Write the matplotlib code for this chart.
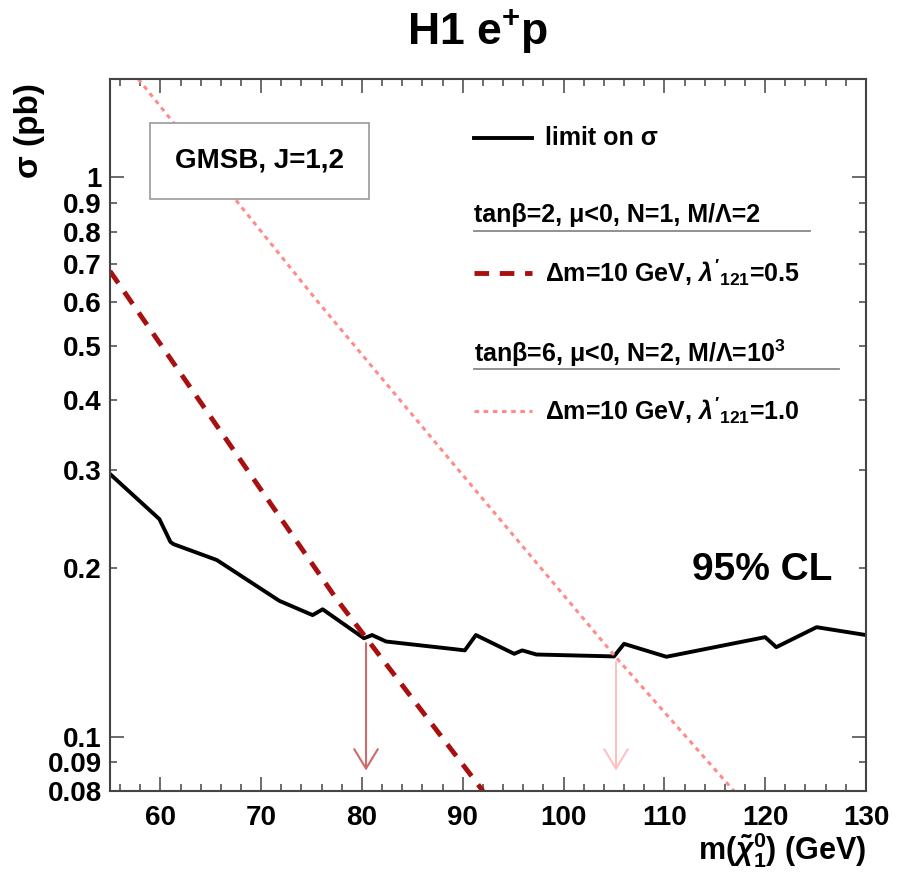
import numpy as np
import matplotlib
matplotlib.use('Agg')
import matplotlib.pyplot as plt

plt.rcParams['font.family'] = ['Liberation Sans', 'DejaVu Sans']
plt.rcParams['font.weight'] = 'bold'
plt.rcParams['mathtext.fontset'] = 'custom'
plt.rcParams['mathtext.rm'] = 'Liberation Sans:bold'
plt.rcParams['mathtext.it'] = 'Liberation Sans:italic:bold'
plt.rcParams['mathtext.bf'] = 'Liberation Sans:bold'

# observed limit on sigma (pb) vs neutralino mass (GeV)
limit_mass = [55, 59.9, 61.0, 61.3, 65.6, 71.8, 75.1, 76.1, 80.2, 81.0, 82.4,
              88.9, 90.2, 91.3, 95.1, 95.9, 97.3, 105.0, 106.0, 110.2, 120.0,
              121.1, 125.1, 130]
limit_sigma = [0.295, 0.245, 0.223, 0.221, 0.207, 0.175, 0.165, 0.169, 0.150,
               0.152, 0.148, 0.1436, 0.1427, 0.152, 0.1407, 0.1427, 0.1403,
               0.1392, 0.1466, 0.139, 0.1507, 0.1446, 0.157, 0.152]

# GMSB predictions
gmsb1_mass = [55, 77.5, 92]
gmsb1_sigma = [0.68, 0.176, 0.08]
gmsb2_mass = [57.8, 75.6, 88.9, 105.0, 116.9]
gmsb2_sigma = [1.5, 0.60, 0.31, 0.140, 0.08]

# excluded-mass arrows
arrow_mass = [80.4, 105.2]
arrow_top = [0.147, 0.136]
arrow_bottom = [0.087, 0.087]
arrow_colors = ['#cf6a6a', '#ffc0c0']

ytick_major = [0.1, 1]
ytick_major_labels = ['0.1', '1']
ytick_minor = [0.08, 0.09, 0.2, 0.3, 0.4, 0.5, 0.6, 0.7, 0.8, 0.9]
ytick_minor_labels = ['0.08', '0.09', '0.2', '0.3', '0.4', '0.5', '0.6', '0.7', '0.8', '0.9']
xticks = [60, 70, 80, 90, 100, 110, 120, 130]

fig = plt.figure(figsize=(9, 8.77), dpi=100)
ax = fig.add_axes([0.1222, 0.0981, 0.84, 0.8119])

ax.plot(limit_mass, limit_sigma, color='black', lw=2.8, solid_joinstyle='round')
ax.plot(gmsb1_mass, gmsb1_sigma, color='#a80f0f', lw=3.5, linestyle=(0, (3, 2.2)))
ax.plot(gmsb2_mass, gmsb2_sigma, color='#ff8c8c', lw=2.2, linestyle=(0, (1.5, 1.5)))

for xm, yt, yb, c in zip(arrow_mass, arrow_top, arrow_bottom, arrow_colors):
    ax.annotate('', xy=(xm, yb), xytext=(xm, yt),
                arrowprops=dict(arrowstyle='->,head_length=1.4,head_width=0.85',
                                color=c, lw=1.5, mutation_scale=10,
                                shrinkA=0, shrinkB=0))

ax.set_yscale('log')
ax.set_xlim(55, 130)
ax.set_ylim(0.08, 1.5)

ax.set_xticks(xticks)
ax.set_xticks(np.arange(56, 130, 2), minor=True)
ax.set_yticks(ytick_major)
ax.set_yticklabels(ytick_major_labels)
ax.set_yticks(ytick_minor, minor=True)
ax.set_yticklabels(ytick_minor_labels, minor=True)

ax.tick_params(which='both', direction='in', top=True, right=True,
               labelsize=20, color='#444444', width=1.1)
ax.tick_params(which='major', length=10, pad=10)
ax.tick_params(which='minor', length=5)
ax.tick_params(axis='y', which='minor', labelsize=20, pad=6)
ax.tick_params(axis='y', which='major', pad=6)
for lab in ax.get_xticklabels() + ax.get_yticklabels() + ax.get_yticklabels(minor=True):
    lab.set_fontweight('bold')
for sp in ax.spines.values():
    sp.set_color('#444444')
    sp.set_linewidth(1.5)

ax.set_xlabel(r'm($\tilde{\chi}^{0}_{1}$) (GeV)', fontsize=22, fontweight='bold', loc='right')
ax.xaxis.set_label_coords(1.0, -0.055)
ax.xaxis.label.set_verticalalignment('top')
ax.set_ylabel('σ (pb)', fontsize=24, fontweight='bold', va='center')
ax.yaxis.set_label_coords(-0.106, 0.927)

fig.text(0.531, 0.9635, r'H1 e$^{+}$p', fontsize=32, fontweight='bold',
         ha='center', va='center')

# info box
ax.text(0.198, 0.885, 'GMSB, J=1,2', transform=ax.transAxes, fontsize=20,
        fontweight='bold', ha='center', va='center',
        bbox=dict(boxstyle='square,pad=0.9', fc='white', ec='#999999', lw=1.2))

# hand-built legend
tr = ax.transAxes
lx0, lx1, tx = 0.4815, 0.5582, 0.576
ax.plot([lx0, lx1], [0.917, 0.917], transform=tr, color='black', lw=2.8)
ax.text(tx, 0.917, 'limit on σ', transform=tr, fontsize=18, va='center')

ax.text(lx0, 0.809, 'tanβ=2, μ<0, N=1, M/Λ=2', transform=tr, fontsize=18, va='center')
ax.plot([lx0, 0.926], [0.7865, 0.7865], transform=tr, color='#888888', lw=1.3)
ax.plot([lx0, lx1], [0.7275, 0.7275], transform=tr, color='#a80f0f', lw=3.5,
        linestyle=(0, (3, 2.2)))
ax.text(tx, 0.7275, r"Δm=10 GeV, $\lambda'_{121}$=0.5", transform=tr, fontsize=18, va='center')

ax.text(lx0, 0.615, r'tanβ=6, μ<0, N=2, M/Λ=10$^{3}$', transform=tr, fontsize=18, va='center')
ax.plot([lx0, 0.964], [0.5927, 0.5927], transform=tr, color='#888888', lw=1.3)
ax.plot([lx0, lx1], [0.5337, 0.5337], transform=tr, color='#ff8c8c', lw=2.2,
        linestyle=(0, (1.5, 1.5)))
ax.text(tx, 0.5337, r"Δm=10 GeV, $\lambda'_{121}$=1.0", transform=tr, fontsize=18, va='center')

ax.text(0.955, 0.310, '95% CL', transform=tr, fontsize=28, fontweight='bold',
        ha='right', va='center')

fig.savefig('out.png', dpi=100)
